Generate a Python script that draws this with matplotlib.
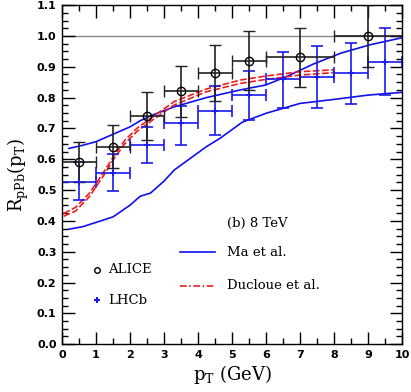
import matplotlib
matplotlib.use("Agg")
import matplotlib.pyplot as plt
from matplotlib.ticker import MultipleLocator

# ALICE points
alice_x = [0.5, 1.5, 2.5, 3.5, 4.5, 5.5, 7.0, 9.0]
alice_xerr = [0.5, 0.5, 0.5, 0.5, 0.5, 0.5, 1.0, 1.0]
alice_y = [0.59, 0.64, 0.74, 0.82, 0.88, 0.92, 0.93, 1.00]
alice_yerr = [0.065, 0.07, 0.078, 0.083, 0.09, 0.095, 0.095, 0.10]

# LHCb points
lhcb_x = [0.5, 1.5, 2.5, 3.5, 4.5, 5.5, 6.5, 7.5, 8.5, 9.5]
lhcb_y = [0.527, 0.556, 0.646, 0.719, 0.757, 0.807, 0.859, 0.868, 0.879, 0.917]
lhcb_lo = [0.468, 0.498, 0.587, 0.647, 0.677, 0.727, 0.765, 0.767, 0.778, 0.808]
lhcb_hi = [0.590, 0.617, 0.706, 0.773, 0.838, 0.887, 0.947, 0.968, 0.976, 1.026]

# Ma et al. band
ma_up_x = [0.2, 0.6, 1.0, 1.5, 2.0, 2.3, 2.7, 3.3, 4.25, 5.25, 6.0, 6.6, 7.4, 8.2, 9.05, 10.0]
ma_up_y = [0.635, 0.645, 0.657, 0.681, 0.705, 0.725, 0.745, 0.770, 0.800, 0.825, 0.841, 0.868, 0.909, 0.944, 0.971, 0.994]
ma_lo_x = [0.2, 0.6, 1.0, 1.5, 2.0, 2.3, 2.6, 3.0, 3.3, 4.25, 4.65, 5.3, 6.0, 7.0, 8.0, 9.0, 10.0]
ma_lo_y = [0.373, 0.381, 0.395, 0.413, 0.451, 0.480, 0.490, 0.529, 0.565, 0.641, 0.668, 0.720, 0.749, 0.781, 0.794, 0.808, 0.817]

# Ducloue et al. band
duc_x = [0.05, 0.4, 0.8, 1.2, 1.5, 1.85, 2.2, 2.7, 3.3, 4.25, 5.25, 6.0, 7.0, 8.0]
duc_lo = [0.415, 0.432, 0.478, 0.543, 0.597, 0.651, 0.690, 0.730, 0.776, 0.819, 0.846, 0.859, 0.873, 0.881]
duc_hi = [0.424, 0.444, 0.489, 0.554, 0.606, 0.662, 0.700, 0.740, 0.787, 0.828, 0.857, 0.870, 0.884, 0.890]

x_ticks = list(range(11))
y_ticks = [round(0.1 * i, 1) for i in range(12)]

SERIF = "DejaVu Serif"

fig = plt.figure(figsize=(4.11, 3.92), dpi=100)
ax = fig.add_axes([0.151, 0.122, 0.827, 0.865])

ax.axhline(1.0, color="#888888", lw=1.0, zorder=1)

ax.plot(ma_up_x, ma_up_y, color="#1010ee", lw=1.2)
ax.plot(ma_lo_x, ma_lo_y, color="#1010ee", lw=1.2)
ax.plot(duc_x, duc_lo, color="#ee1c1c", lw=1.2, ls=(0, (4, 1.5)))
ax.plot(duc_x, duc_hi, color="#ee1c1c", lw=1.2, ls=(0, (4, 1.5)))

ylo = [c - l for c, l in zip(lhcb_y, lhcb_lo)]
yhi = [h - c for c, h in zip(lhcb_y, lhcb_hi)]
ax.errorbar(lhcb_x, lhcb_y, xerr=0.5, yerr=[ylo, yhi], fmt="+", color="#1a1aee",
            ms=4, mew=1.2, elinewidth=1.2, capsize=4, capthick=1.2)
ax.errorbar(alice_x, alice_y, xerr=alice_xerr, yerr=alice_yerr, fmt="o", mfc="none",
            mec="black", color="#222222", ms=6, mew=1.0, elinewidth=1.2, capsize=4,
            capthick=1.2)

# legend-like annotations
ax.plot([1.02], [0.242], "o", mfc="none", mec="black", ms=4, mew=1.0)
ax.text(1.36, 0.242, "ALICE", family=SERIF, fontsize=9.5, va="center")
ax.plot([1.02], [0.143], "+", color="#1a1aee", ms=5, mew=1.5)
ax.text(1.36, 0.143, "LHCb", family=SERIF, fontsize=9.5, va="center")
ax.text(4.84, 0.392, "(b) 8 TeV", family=SERIF, fontsize=9.5, va="center")
ax.plot([3.47, 4.5], [0.30, 0.30], color="#1010ee", lw=1.2)
ax.text(4.84, 0.297, "Ma et al.", family=SERIF, fontsize=9.5, va="center")
ax.plot([3.47, 4.5], [0.19, 0.19], color="#ee1c1c", lw=1.2, ls=(0, (4, 1.5, 1, 1.5)))
ax.text(4.84, 0.19, "Ducloue et al.", family=SERIF, fontsize=9.5, va="center")

ax.set_xlim(0, 10)
ax.set_ylim(0, 1.1)
ax.set_xticks(x_ticks)
ax.set_xticklabels([f"{v:g}" for v in x_ticks], fontweight="bold")
ax.set_yticks(y_ticks)
ax.set_yticklabels([f"{v:.1f}" for v in y_ticks], fontweight="bold")
ax.xaxis.set_minor_locator(MultipleLocator(0.5))
ax.yaxis.set_minor_locator(MultipleLocator(0.025))
ax.tick_params(which="both", direction="in", top=True, right=True, width=1.0)
ax.tick_params(which="major", length=9, labelsize=8, pad=4)
ax.tick_params(which="minor", length=4.5)
for s in ax.spines.values():
    s.set_linewidth(1.0)

ax.set_xlabel(r"p$_\mathregular{T}$ (GeV)", family=SERIF, fontsize=13, labelpad=2)
ax.set_ylabel(r"R$_\mathregular{pPb}$(p$_\mathregular{T}$)", family=SERIF, fontsize=13, labelpad=4)

fig.savefig("out.png", dpi=100)
